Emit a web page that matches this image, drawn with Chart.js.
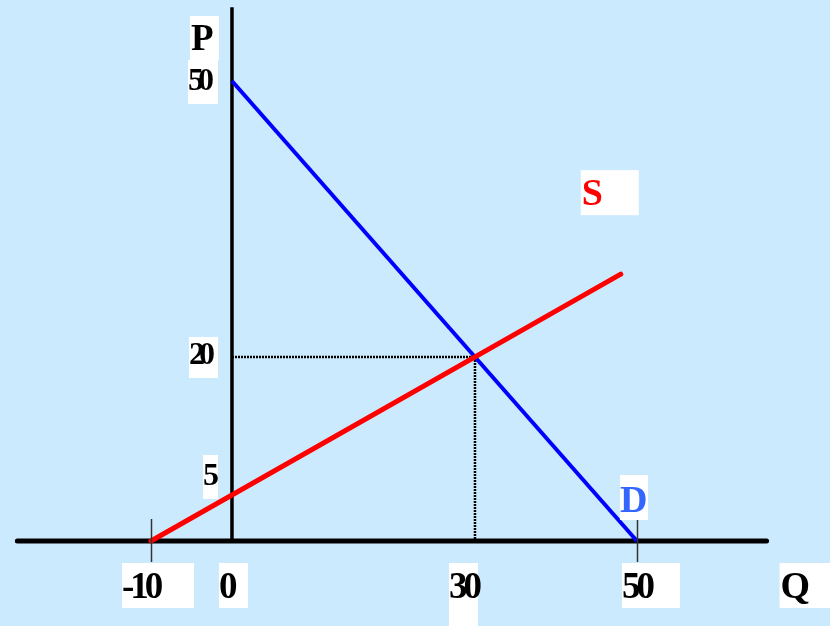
<!DOCTYPE html>
<html>
<head>
<meta charset="utf-8">
<script src="https://cdn.jsdelivr.net/npm/chart.js@4.4.1/dist/chart.umd.min.js"></script>
<style>
  html, body { margin: 0; padding: 0; background: #cceafe; }
  canvas { display: block; }
</style>
</head>
<body>
<canvas id="grafico" width="830" height="626"></canvas>
<script>
// Oferta e demanda (P x Q)
const demandaQ = [0, 50];
const demandaP = [50, 0];
const ofertaQ = [-10, 48];
const ofertaP = [0, 29];
const equilibrioQ = [0, 30, 30];
const equilibrioP = [20, 20, 0];
const ticksQ = [-10, 0, 30, 50];
const ticksP = [5, 20, 50];
const marcasQ = [-10, 50];      // tracinhos finos no eixo Q
const eixoQ = [-26.5, 66];      // extensão da linha do eixo horizontal
const eixoP = [0, 58];          // extensão da linha do eixo vertical

const COR_FUNDO = '#cceafe';
const FONTE = '"Liberation Serif", "Times New Roman", serif';

// caixas brancas dos rótulos (deslocamentos em px a partir do valor)
const caixaQ = {
    '-10': { dx: -29, w: 72, h: 45 },
    '0':   { dx: -13, w: 29, h: 45 },
    '30':  { dx: -26, w: 29, h: 70 },
    '50':  { dx: -15, w: 58, h: 45 }
};
const caixaP = {
    '5':  { w: 15, top: -40, h: 44, base: -10 },
    '20': { w: 29, top: -20, h: 41, base: 7 },
    '50': { w: 30, top: -21, h: 44, base: 9 }
};

function pontos(qs, ps) {
    return qs.map((q, i) => ({ x: q, y: ps[i] }));
}

function rotulo(ctx, texto, bx, by, bw, bh, tx, ty, fonte, cor, esp) {
    ctx.fillStyle = '#ffffff';
    ctx.fillRect(bx, by, bw, bh);
    ctx.font = fonte;
    ctx.fillStyle = cor;
    ctx.textAlign = 'left';
    ctx.textBaseline = 'alphabetic';
    ctx.letterSpacing = esp;
    ctx.fillText(texto, tx, ty);
    ctx.letterSpacing = '0px';
}

const pluginFundo = {
    id: 'fundo',
    beforeDraw(chart) {
        const ctx = chart.ctx;
        ctx.save();
        ctx.fillStyle = COR_FUNDO;
        ctx.fillRect(0, 0, chart.width, chart.height);
        ctx.restore();
    }
};

const pluginRotulos = {
    id: 'rotulos',
    afterDatasetsDraw(chart) {
        const ctx = chart.ctx;
        const sx = chart.scales.x, sy = chart.scales.y;
        const y0 = sy.getPixelForValue(0);
        const x0 = sx.getPixelForValue(0);
        ctx.save();

        // tracinhos finos
        ctx.strokeStyle = '#333333';
        ctx.lineWidth = 1.5;
        marcasQ.forEach(q => {
            const px = Math.round(sx.getPixelForValue(q)) + 0.5;
            ctx.beginPath();
            ctx.moveTo(px, y0 - 22);
            ctx.lineTo(px, y0 + 21);
            ctx.stroke();
        });

        // rótulos do eixo Q
        ticksQ.forEach(q => {
            const c = caixaQ[String(q)];
            const bx = sx.getPixelForValue(q) + c.dx;
            rotulo(ctx, String(q), bx, y0 + 22, c.w, c.h, bx, y0 + 57,
                'bold 37px ' + FONTE, '#000000', '-4px');
        });

        // rótulos do eixo P
        ticksP.forEach(p => {
            const c = caixaP[String(p)];
            const py = sy.getPixelForValue(p);
            const bx = x0 - 14 - c.w;
            rotulo(ctx, String(p), bx, py + c.top, c.w, c.h, bx, py + c.base,
                'bold 32px ' + FONTE, '#000000', '-6px');
        });

        // títulos dos eixos
        const topo50 = sy.getPixelForValue(ticksP[ticksP.length - 1]) - 21;
        rotulo(ctx, 'P', x0 - 42, topo50 - 44, 29, 44, x0 - 41, topo50 - 10,
            'bold 37px ' + FONTE, '#000000', '0px');
        const fimQ = sx.getPixelForValue(eixoQ[1]);
        rotulo(ctx, 'Q', fimQ + 13, y0 + 22, chart.width - fimQ - 13, 45, fimQ + 14, y0 + 57,
            'bold 38px ' + FONTE, '#000000', '0px');

        // nomes das curvas
        const fimS = { x: sx.getPixelForValue(ofertaQ[1]), y: sy.getPixelForValue(ofertaP[1]) };
        rotulo(ctx, 'S', fimS.x - 40, fimS.y - 104, 58, 45, fimS.x - 39, fimS.y - 69,
            'bold 38px ' + FONTE, '#ff0000', '0px');
        const fimD = { x: sx.getPixelForValue(demandaQ[1]), y: sy.getPixelForValue(demandaP[1]) };
        rotulo(ctx, 'D', fimD.x - 17, fimD.y - 66, 28, 45, fimD.x - 17, fimD.y - 29,
            'bold 38px ' + FONTE, '#3366ff', '0px');

        ctx.restore();
    }
};

const linha = (dados, cor, largura, extra) => Object.assign({
    data: dados,
    showLine: true,
    borderColor: cor,
    borderWidth: largura,
    pointRadius: 0,
    fill: false,
    tension: 0
}, extra || {});

new Chart(document.getElementById('grafico').getContext('2d'), {
    type: 'scatter',
    data: {
        datasets: [
            linha(pontos(ofertaQ, ofertaP), '#ff0000', 5, { borderCapStyle: 'round' }),
            linha(pontos(demandaQ, demandaP), '#0000ff', 4),
            linha(pontos(equilibrioQ, equilibrioP), '#000000', 2.5, { borderDash: [2, 1] }),
            linha(pontos(eixoQ, [0, 0]), '#000000', 5, { borderCapStyle: 'round' }),
            linha(pontos([0, 0], eixoP), '#000000', 3.5)
        ]
    },
    options: {
        responsive: false,
        animation: false,
        layout: { padding: 0 },
        plugins: {
            legend: { display: false },
            tooltip: { enabled: false }
        },
        scales: {
            x: { type: 'linear', display: false, min: -28.64, max: 73.83 },
            y: { type: 'linear', display: false, min: -9.24, max: 58.8 }
        }
    },
    plugins: [pluginFundo, pluginRotulos]
});
</script>
</body>
</html>
